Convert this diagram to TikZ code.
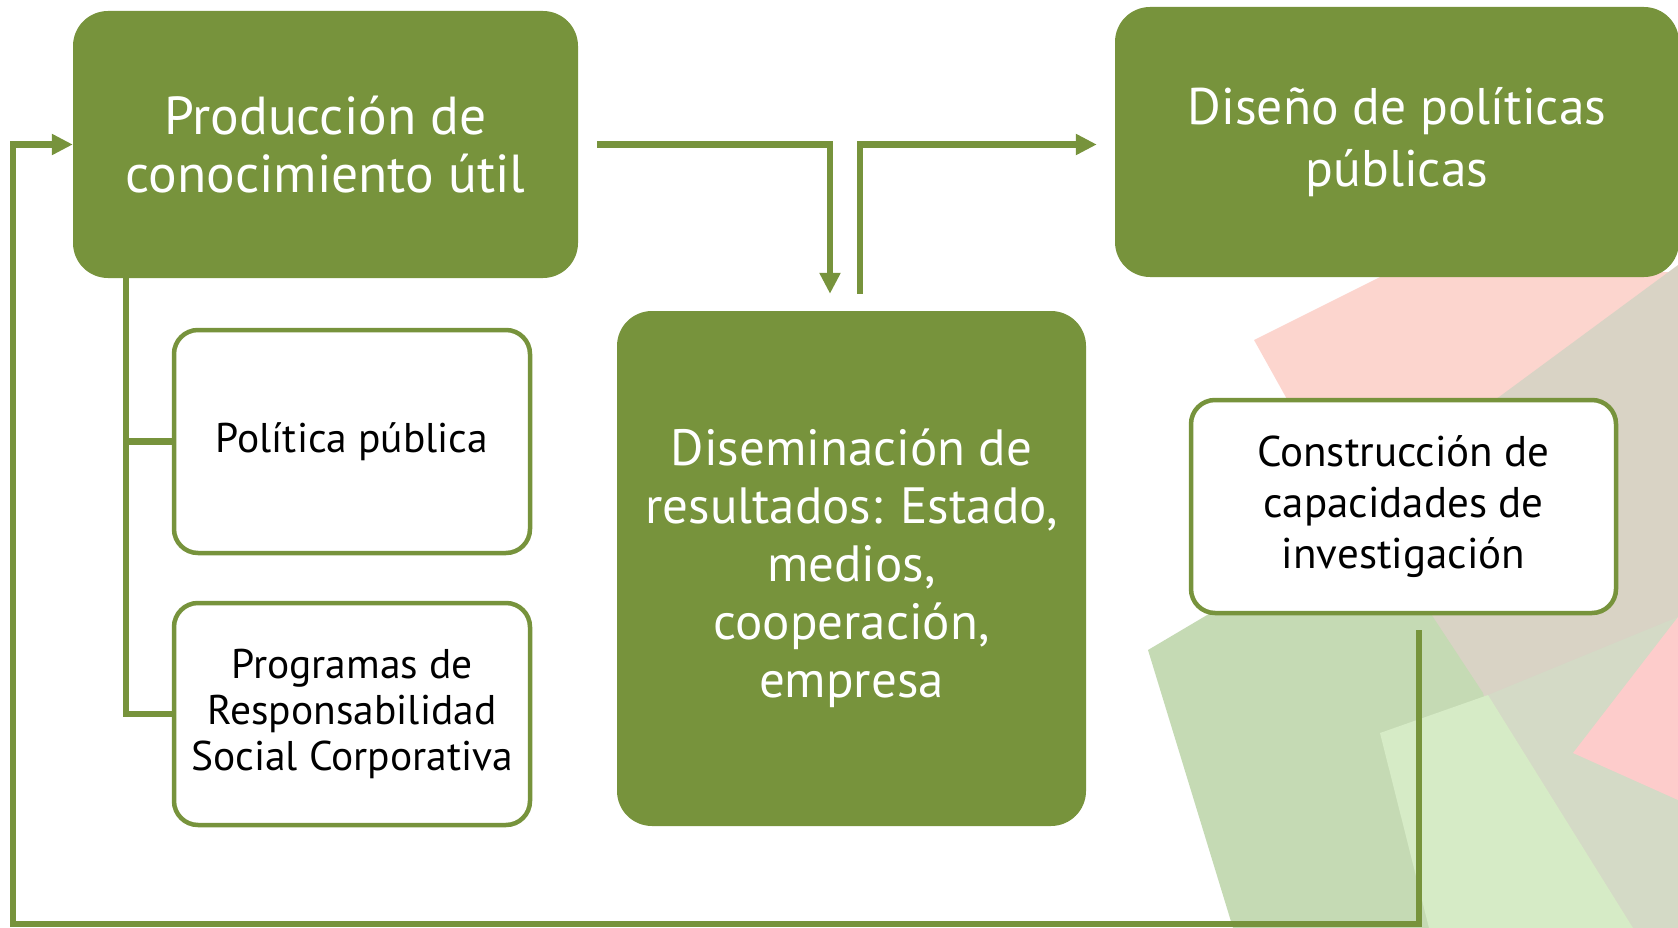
\documentclass[tikz,border=0pt]{standalone}
\usepackage{fontspec}
\setmainfont{PT Sans}
\usetikzlibrary{arrows.meta}
\definecolor{olive}{HTML}{77933C}
\definecolor{bgpink}{RGB}{252,213,206}
\definecolor{bgbeige}{RGB}{217,211,197}
\definecolor{bggreen}{RGB}{197,218,180}
\definecolor{bglight}{RGB}{214,235,198}
\definecolor{bggrey}{RGB}{212,218,198}
\definecolor{bgrose}{RGB}{253,204,203}
\tikzset{
	greenbox/.style={rectangle, rounded corners=35pt, fill=olive, text=white, align=center, inner sep=0pt, font=\fontsize{51}{58}\selectfont},
	whitebox/.style={rectangle, rounded corners=24pt, draw=olive, line width=4.5pt, fill=white, align=center, inner sep=0pt, font=\fontsize{41.5}{46}\selectfont},
	link/.style={draw=olive, line width=6.5pt},
	flow/.style={link, -{Triangle[length=21pt,width=20pt]}}
}

\begin{document}
\begin{tikzpicture}[x=1pt, y=-1pt]
		%%%%% START %%%%%
		\useasboundingbox (0, 0) rectangle (1678, 928);
		
		% background sheets
		\fill[bgpink] (1254, 340) -- (1390, 272) -- (1678, 272) -- (1678, 600) -- (1399, 600) -- cycle;
		\fill[bgbeige] (1678, 265) -- (1499, 397) -- (1400, 455) -- (1400, 928) -- (1678, 928) -- cycle;
		\fill[bggreen] (1148, 650) -- (1300, 560) -- (1390, 550) -- (1433, 617) -- (1483, 693) -- (1540, 928) -- (1233, 928) -- cycle;
		\fill[bggrey] (1488, 695) -- (1678, 617) -- (1678, 928) -- (1633, 928) -- cycle;
		\fill[bglight] (1380, 733) -- (1488, 695) -- (1633, 928) -- (1429, 928) -- cycle;
		\fill[bgrose] (1573, 753) -- (1678, 617) -- (1678, 800) -- cycle;
		
		% boxes
		\node[greenbox, minimum width=505pt, minimum height=267pt, font=\fontsize{53.5}{58}\selectfont] (prod) at (325.5, 144.5) {Producción de\\conocimiento útil};
		\node[greenbox, minimum width=564pt, minimum height=270pt, font=\fontsize{51.5}{62}\selectfont] (diseno) at (1397, 142) {Diseño de políticas\\públicas};
		\node[greenbox, minimum width=469pt, minimum height=515pt] (dis) at (851.5, 568.5) {Diseminación de\\resultados: Estado,\\medios,\\cooperación,\\empresa};
		\node[whitebox, minimum width=356pt, minimum height=223pt] (pol) at (352, 441.5) {Política pública};
		\node[whitebox, minimum width=356pt, minimum height=222pt] (prog) at (352, 714) {Programas de\\Responsabilidad\\Social Corporativa};
		\node[whitebox, minimum width=425pt, minimum height=213pt, font=\fontsize{43}{51}\selectfont] (cons) at (1403.5, 506.5) {Construcción de\\capacidades de\\investigación};
		
		% tree under the first box
		\coordinate (trunk) at ([xshift=53pt]prod.south west);
		\draw[link] (trunk) |- (prog.west);
		\draw[link] (trunk |- pol.west) -- (pol.west);
		
		% arrows
		\draw[flow] ([xshift=19pt]prod.east) -| ([xshift=-21.5pt, yshift=17pt]dis.north);
		\draw[flow] ([xshift=8.5pt, yshift=17pt]dis.north) |- ([xshift=-18pt]prod.east -| diseno.west);
		
		\coordinate (corner) at (13, 924);
		\draw[flow] ([xshift=15.5pt, yshift=-15pt]cons.south) |- (corner) |- (prod.west);
		%%%%% END %%%%%
	\end{tikzpicture}
\end{document}
